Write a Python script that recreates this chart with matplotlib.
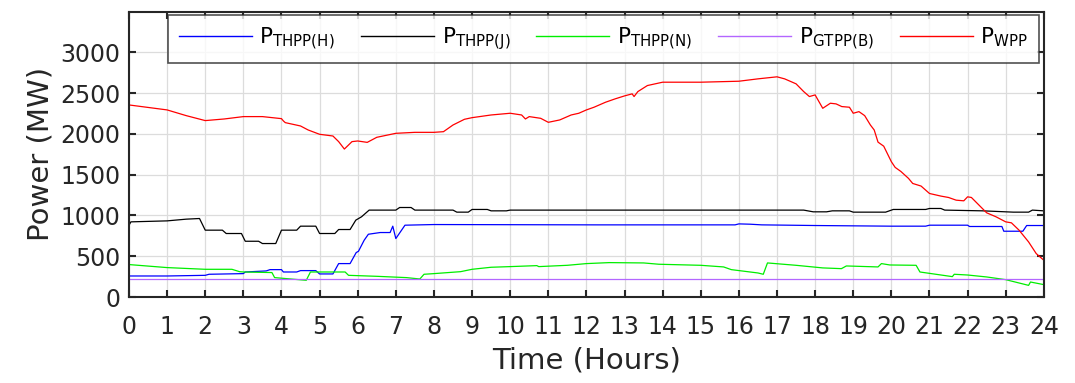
import numpy as np
import matplotlib
matplotlib.use('Agg')
import matplotlib.pyplot as plt

plt.rcParams['font.family'] = 'DejaVu Sans'
plt.rcParams['mathtext.fontset'] = 'dejavusans'

# WPP (red)
t_wpp = [0, 1, 1.5, 2, 2.5, 3, 3.5, 4.0, 4.05, 4.1, 4.5, 4.7, 5.0, 5.35, 5.5, 5.65, 5.85, 6.0,
         6.25, 6.5, 7.0, 7.5, 8.0, 8.25, 8.5, 8.8, 9.0, 9.5, 10.0, 10.3, 10.4, 10.5, 10.8, 11.0,
         11.3, 11.6, 11.8, 12.0, 12.2, 12.5, 12.75, 13.0, 13.2, 13.25, 13.35, 13.6, 14.0, 15.0,
         16.0, 16.5, 17.0, 17.2, 17.5, 17.7, 17.85, 18.0, 18.2, 18.4, 18.55, 18.7, 18.9, 19.0,
         19.15, 19.3, 19.45, 19.55, 19.65, 19.8, 20.0, 20.1, 20.25, 20.45, 20.56, 20.78, 21.0,
         21.3, 21.5, 21.7, 21.9, 22.0, 22.1, 22.3, 22.5, 22.75, 23.0, 23.15, 23.35, 23.6, 23.8, 24.0]
p_wpp = [2356, 2295, 2225, 2164, 2184, 2213, 2213, 2188, 2160, 2139, 2098, 2049, 1996, 1975, 1906,
         1815, 1906, 1914, 1897, 1959, 2008, 2020, 2020, 2028, 2110, 2180, 2200, 2233, 2254, 2233,
         2184, 2213, 2192, 2143, 2172, 2233, 2254, 2295, 2328, 2389, 2430, 2467, 2492, 2459, 2520,
         2594, 2635, 2635, 2647, 2676, 2701, 2676, 2615, 2520, 2459, 2479, 2315, 2377, 2369, 2336,
         2328, 2254, 2274, 2225, 2110, 2049, 1900, 1850, 1660, 1590, 1540, 1455, 1393, 1361, 1270,
         1238, 1221, 1188, 1180, 1229, 1221, 1127, 1033, 983, 922, 910, 820, 676, 533, 451]

# THPP(J) (black)
t_j = [0, 0.05, 1, 1.5, 1.85, 2.0, 2.45, 2.55, 2.95, 3.05, 3.4, 3.5, 3.85, 4.0, 4.4, 4.5, 4.9,
       5.0, 5.4, 5.5, 5.8, 5.95, 6.1, 6.3, 7.0, 7.1, 7.4, 7.5, 8.5, 8.6, 8.9, 9.0, 9.4, 9.5, 9.9,
       10.0, 17.7, 17.95, 18.3, 18.45, 18.9, 19.0, 19.85, 20.05, 20.9, 21.0, 21.3, 21.4, 22.4,
       23.2, 23.6, 23.7, 24.0]
p_j = [880, 922, 934, 955, 963, 820, 820, 779, 779, 684, 684, 656, 656, 820, 820, 869, 869,
       779, 779, 828, 828, 943, 984, 1066, 1066, 1098, 1098, 1066, 1066, 1041, 1041, 1074, 1074,
       1057, 1057, 1066, 1066, 1045, 1045, 1057, 1057, 1041, 1041, 1074, 1074, 1086, 1086, 1066,
       1057, 1041, 1041, 1066, 1057]

# THPP(H) (blue)
t_h = [0, 1, 2.0, 2.1, 3.0, 3.05, 3.6, 3.7, 4.0, 4.05, 4.4, 4.5, 4.9, 5.0, 5.35, 5.5, 5.8, 5.96,
       6.02, 6.17, 6.28, 6.59, 6.85, 6.92, 7.0, 7.24, 8.0, 12.3, 15.9, 16.0, 16.3, 16.6, 18.0,
       20.0, 20.9, 21.0, 22.0, 22.05, 22.9, 22.95, 23.45, 23.55, 24.0]
p_h = [258, 258, 266, 279, 287, 307, 320, 336, 336, 307, 307, 324, 324, 283, 283, 410, 410, 545,
       561, 697, 770, 791, 791, 869, 717, 881, 889, 885, 885, 897, 893, 885, 877, 869, 869, 881,
       881, 865, 865, 807, 807, 877, 877]

# THPP(N) (green)
t_n = [0, 1, 2, 2.7, 2.9, 3.0, 3.75, 3.82, 4.65, 4.76, 5.67, 5.76, 6.5, 7.28, 7.63, 7.74, 8.0,
       8.7, 9.0, 9.5, 10.0, 10.7, 10.75, 11.5, 12.0, 12.6, 13.5, 13.9, 15.0, 15.6, 15.8, 16.5,
       16.64, 16.75, 17.5, 18.2, 18.69, 18.82, 19.65, 19.74, 19.96, 20.65, 20.75, 21.6, 21.65,
       22.0, 22.5, 23.0, 23.6, 23.65, 24.0]
p_n = [398, 361, 340, 340, 311, 307, 300, 238, 205, 307, 307, 266, 254, 238, 221, 279, 287,
       311, 340, 365, 373, 385, 373, 389, 410, 422, 418, 402, 389, 369, 336, 295, 279, 418, 389,
       357, 348, 381, 369, 410, 393, 389, 307, 250, 279, 270, 246, 213, 143, 184, 152]

# GTPP(B) (purple)
t_b = [0, 24]
p_b = [220, 220]

labels = [r'$\mathrm{P}_{\mathrm{THPP(H)}}$', r'$\mathrm{P}_{\mathrm{THPP(J)}}$',
          r'$\mathrm{P}_{\mathrm{THPP(N)}}$', r'$\mathrm{P}_{\mathrm{GTPP(B)}}$',
          r'$\mathrm{P}_{\mathrm{WPP}}$']
colors = ['#0000ff', '#000000', '#00ee00', '#b366ff', '#ff0000']

fig = plt.figure(figsize=(10.75, 3.83), dpi=100)
ax = fig.add_axes([0.12, 0.2245, 0.851, 0.745])

series = [(t_h, p_h), (t_j, p_j), (t_n, p_n), (t_b, p_b), (t_wpp, p_wpp)]
for (t, p), c, lab in zip(series, colors, labels):
    ax.plot(t, p, color=c, linewidth=0.9, label=lab)

ax.set_xlim(0, 24)
ax.set_ylim(0, 3500)
ax.set_xticks(np.arange(0, 25, 1))
ax.set_yticks(np.arange(0, 3001, 500))
ax.grid(True, color='#dcdcdc', linewidth=0.9)
ax.set_axisbelow(True)
ax.tick_params(direction='in', length=5, width=1.5, top=True, right=True,
               labelsize=17, colors='#262626', pad=6)
ax.tick_params(axis='x', pad=13)
for s in ax.spines.values():
    s.set_color('#262626')
    s.set_linewidth(1.5)

ax.set_xlabel('Time (Hours)', fontsize=21, color='#262626', labelpad=5)
ax.set_ylabel('Power (MW)', fontsize=21, color='#262626', labelpad=4)

leg = ax.legend(loc='upper left', bbox_to_anchor=(0.0426, 0.99, 0.952, 0.0), mode='expand',
                ncol=5, fontsize=15.5, handlelength=3.4, handletextpad=0.35,
                borderaxespad=0, frameon=True, fancybox=False, borderpad=0.5)
leg.get_frame().set_edgecolor('#262626')
leg.get_frame().set_linewidth(1.2)
for line in leg.get_lines():
    line.set_linewidth(1.0)

fig.savefig('out.png', dpi=100)
